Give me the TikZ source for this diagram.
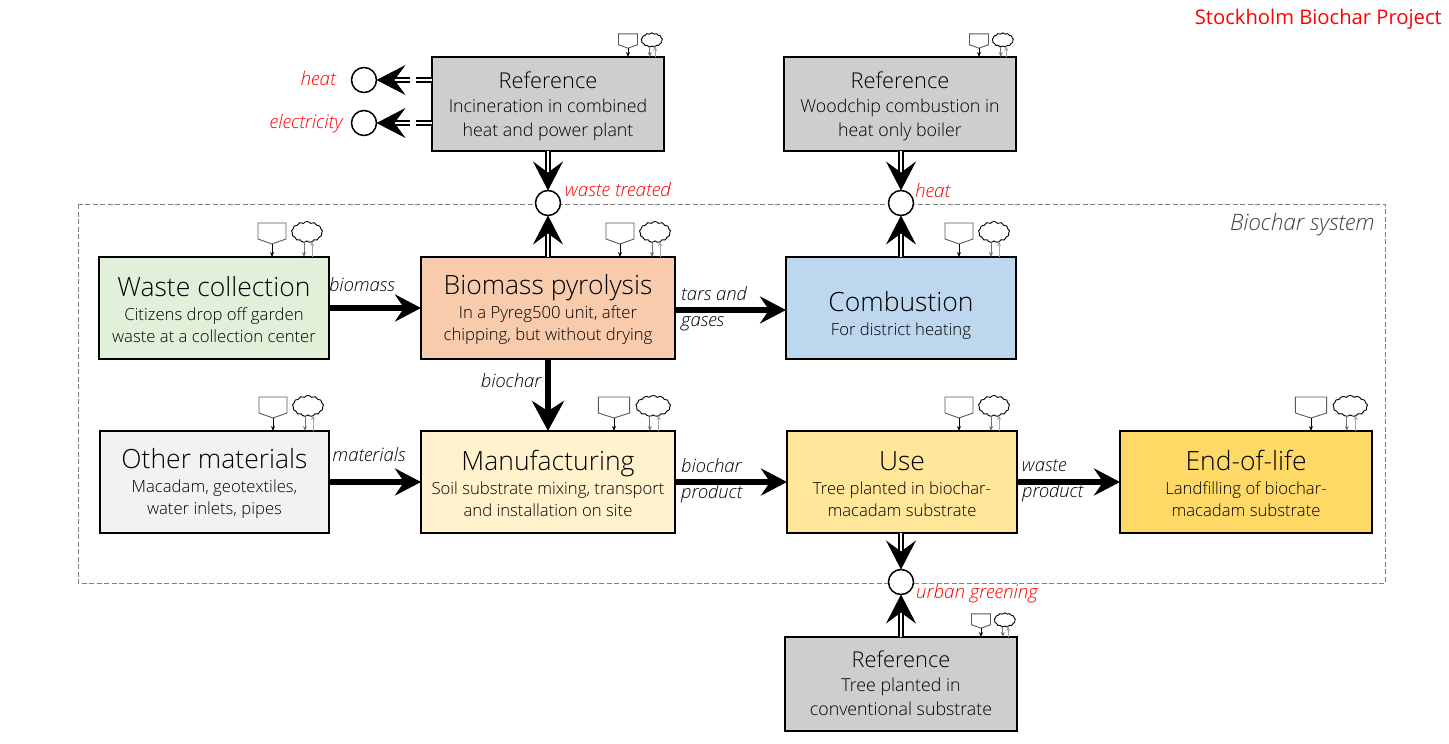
\documentclass[tikz,border=0pt]{standalone}
\usepackage{fontspec}
\setmainfont{Open Sans}[UprightFont={* Light},ItalicFont={* Light Italic}]
\newfontfamily\titlefont{Open Sans}
\usetikzlibrary{arrows.meta,shapes.symbols}
\definecolor{refgray}{HTML}{CFCDCD}
\definecolor{wastegreen}{HTML}{E2EFD9}
\definecolor{pyrorange}{HTML}{F8CBAD}
\definecolor{combblue}{HTML}{BDD7EE}
\definecolor{othergray}{HTML}{F2F2F2}
\definecolor{manuyellow}{HTML}{FFF2CC}
\definecolor{useyellow}{HTML}{FFE699}
\definecolor{eolyellow}{HTML}{FFD966}
\definecolor{redlabel}{HTML}{FF0000}
\newcommand{\bigt}[1]{{\fontsize{26.5}{30}\selectfont\rule[-10.5pt]{0pt}{33.5pt}#1}}
\newcommand{\midt}[1]{{\fontsize{21.8}{24}\selectfont\rule[-6pt]{0pt}{28pt}#1}}
\newcommand{\subtxt}{\fontsize{16.7}{22}\selectfont}
\newcommand{\reftxt}{\fontsize{17.8}{24}\selectfont}
\tikzset{
  x=1pt,y=-1pt,
  box/.style={draw=black,line width=2.2pt,inner sep=0pt,outer sep=0pt,align=center,text=black,font=\subtxt},
  refbox/.style={box,fill=refgray,minimum width=232pt,minimum height=94pt,font=\reftxt},
  probe/.style={draw=black,fill=white,circle,line width=1.5pt,minimum size=25pt,inner sep=0pt,outer sep=0pt},
  flow/.style={line width=5.5pt,-{Stealth[length=26pt,width=27pt,inset=9pt]}},
  bigflow/.style={line width=6pt,-{Stealth[length=30pt,width=32pt,inset=10pt]}},
  dflow/.style={double=white,double distance=2.4pt,draw=black,line width=1.6pt,-{Stealth[length=29pt,width=30pt,inset=11pt]}},
  dstub/.style={double=white,double distance=2.4pt,draw=black,line width=1.6pt},
  lab/.style={font=\fontsize{18.5}{26}\selectfont\itshape,inner sep=0pt,text=black},
  redlab/.style={font=\fontsize{18.8}{22}\selectfont\itshape,inner sep=0pt,text=redlabel},
  pics/icons/.style={code={
    \draw[draw=black!65,line width=.9pt,fill=white] (-14,-34)--(14,-34)--(14,-18)--(0,-13)--(-14,-18)--cycle;
    \draw[-{Stealth[length=5pt,width=4pt]},line width=.8pt] (0,-13)--(0,0);
    \node[cloud,cloud puffs=13,cloud puff arc=110,aspect=1.4,draw=black,line width=.9pt,fill=white,minimum width=31pt,minimum height=21pt,inner sep=0pt,transform shape] (-cl) at (35,-25) {};
    \draw[-{Stealth[length=5pt,width=4pt]},draw=black!55,line width=.8pt] (32,-15)--(32,0);
    \draw[-{Stealth[length=5pt,width=4pt]},draw=black!35,line width=.8pt] (40,0)--(40,-16);
  }}
}
\begin{document}
\begin{tikzpicture}
\useasboundingbox (0,0) rectangle (1449,744);
\draw[draw=black!50,dash pattern=on 5pt off 2.5pt,line width=.8pt] (78,204) rectangle (1385,583);

\node[refbox] (ref1) at (548,104) {\midt{Reference}\\Incineration in combined\\heat and power plant};
\node[refbox] (ref2) at (900,104) {\midt{Reference}\\Woodchip combustion in\\heat only boiler};
\node[refbox] (ref3) at (901,684) {\midt{Reference}\\Tree planted in\\conventional substrate\rule[-8pt]{0pt}{0pt}};
\node[box,fill=wastegreen,minimum width=230pt,minimum height=102pt] (wc) at (214,308) {\bigt{Waste collection}\\Citizens drop off garden\\waste at a collection center};
\node[box,fill=pyrorange,minimum width=254pt,minimum height=102pt] (pyr) at (548,308) {\bigt{Biomass pyrolysis}\\In a Pyreg500 unit, after\\chipping, but without drying};
\node[box,fill=combblue,minimum width=230pt,minimum height=102pt] (comb) at (901,308) {\rule{0pt}{35pt}\bigt{Combustion}\\For district heating};
\node[box,fill=othergray,minimum width=229pt,minimum height=102pt] (other) at (214.5,482) {\bigt{Other materials}\\Macadam, geotextiles,\\water inlets, pipes};
\node[box,fill=manuyellow,minimum width=254pt,minimum height=102pt] (manu) at (548,482) {\bigt{Manufacturing}\\Soil substrate mixing, transport\\and installation on site};
\node[box,fill=useyellow,minimum width=230pt,minimum height=102pt] (use) at (902,482) {\bigt{Use}\\Tree planted in biochar-\\macadam substrate};
\node[box,fill=eolyellow,minimum width=252pt,minimum height=102pt] (eol) at (1246,482) {\bigt{End-of-life}\\Landfilling of biochar-\\macadam substrate};

\node[probe] (pheat) at (364,80) {};
\node[probe] (pelec) at (364,123) {};
\node[probe] (pwaste) at (548,203) {};
\node[probe] (pheat2) at (901,203) {};
\node[probe] (pgreen) at (901,582) {};

\draw[flow] (wc.east) -- (pyr.west);
\draw[flow] ([yshift=-2pt]pyr.east) -- ([yshift=-2pt]comb.west);
\draw[bigflow] (pyr.south) -- (manu.north);
\draw[flow] (other.east) -- (manu.west);
\draw[flow] (manu.east) -- (use.west);
\draw[flow] (use.east) -- (eol.west);

\coordinate (gh) at (413,80);
\coordinate (ge) at (413,123);
\draw[dstub] (pheat-|ref1.west) -- ([xshift=3pt]gh);
\draw[dflow] ([xshift=-3pt]gh) -- (pheat.east);
\draw[dstub] (pelec-|ref1.west) -- ([xshift=3pt]ge);
\draw[dflow] ([xshift=-3pt]ge) -- (pelec.east);
\draw[dflow] (ref1.south) -- (pwaste.north);
\draw[dflow] (pyr.north) -- (pwaste.south);
\draw[dflow] (ref2.south-|pheat2) -- (pheat2.north);
\draw[dflow] (comb.north) -- (pheat2.south);
\draw[dflow] (use.south-|pgreen) -- (pgreen.north);
\draw[dflow] (ref3.north) -- (pgreen.south);

\pic[scale=.68,transform shape] (i1) at (628,57) {icons};
\pic[scale=.68,transform shape] (i2) at (979,57) {icons};
\pic[scale=.68,transform shape] (i3) at (981,637) {icons};
\pic (i4) at (272,257) {icons};
\pic (i5) at (620,257) {icons};
\pic (i6) at (959,257) {icons};
\pic (i7) at (273,431) {icons};
\pic[xscale=1.12,transform shape] (i8) at (614,431) {icons};
\pic (i9) at (959,431) {icons};
\pic[xscale=1.12,transform shape] (i10) at (1311,431) {icons};

\node[lab,anchor=center] (l1) at (362,285) {biomass};
\node[lab,anchor=west,align=left] (l2) at (681,309) {tars and\\gases};
\node[lab,anchor=center] (l3) at (511,381) {biochar};
\node[lab,anchor=center] (l4) at (369,455) {materials};
\node[lab,anchor=west,align=left] (l5) at (681,481) {biochar\\product};
\node[lab,anchor=west,align=left] (l6) at (1022,481) {waste\\product};

\node[redlab,anchor=east] (r1) at (336,78) {heat};
\node[redlab,anchor=east] (r2) at (343,124) {electricity};
\node[redlab,anchor=west] (r3) at (565,189) {waste treated};
\node[redlab,anchor=west] (r4) at (915,190) {heat};
\node[redlab,anchor=west] (r5) at (916,594) {urban greening};

\node[font=\fontsize{22.6}{26}\selectfont\itshape,inner sep=0pt,text=black!75,anchor=east] (sys) at (1375,225) {Biochar system};
\node[font=\titlefont\fontsize{20.2}{24}\selectfont,inner sep=0pt,text=redlabel,anchor=east] (ttl) at (1442,19) {Stockholm Biochar Project};
\end{tikzpicture}
\end{document}
